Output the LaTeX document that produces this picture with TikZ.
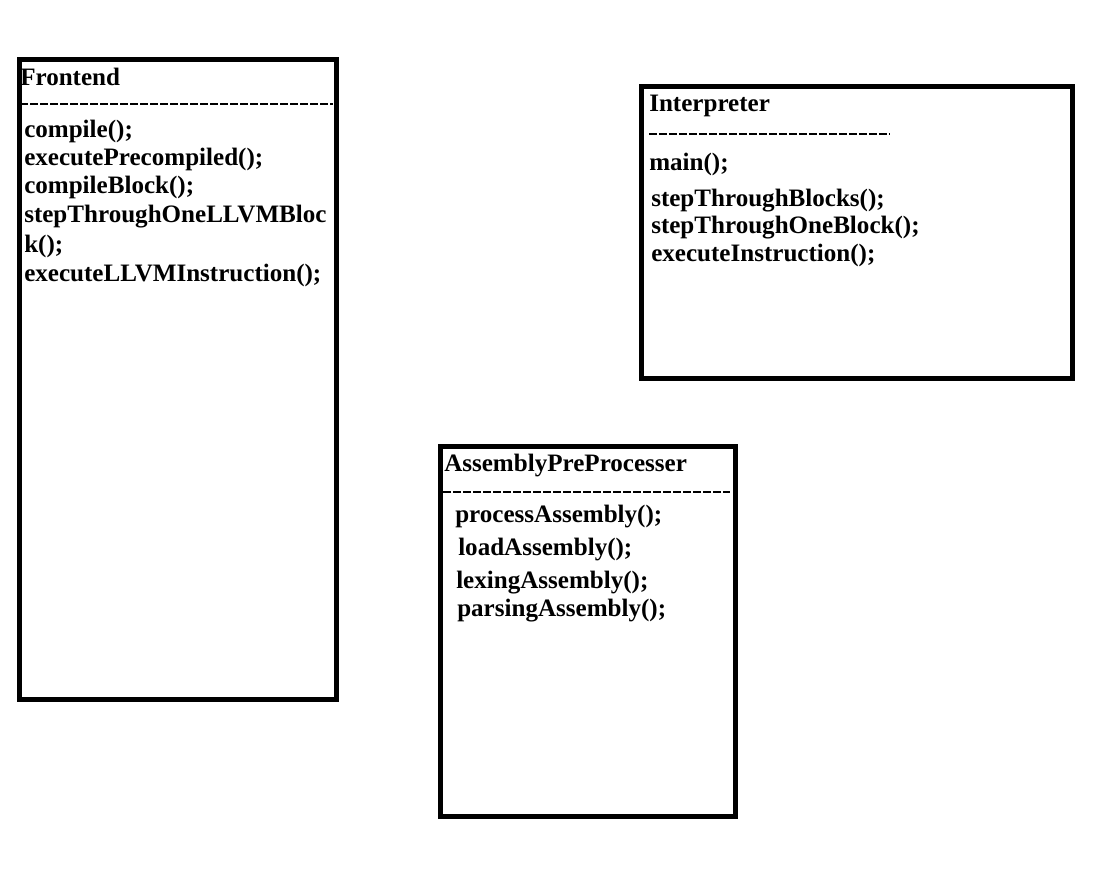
\documentclass[tikz,border=0pt]{standalone}
\usepackage{fontspec}
\setmainfont{Liberation Serif}
\usetikzlibrary{positioning}

\tikzset{
  classbox/.style={draw, line width=3.75pt},
  member/.style={anchor=west, inner sep=0pt, font=\bfseries\fontsize{18.8}{22}\selectfont},
  sepline/.style={line width=1.6pt, dash pattern=on 6pt off 1.5pt},
}

\begin{document}
\begin{tikzpicture}[x=0.75pt,y=-0.75pt]
  \useasboundingbox (0,0) rectangle (1101,893);

  % Frontend
  \coordinate (fe-nw) at (19.5,59.5);
  \coordinate (fe-se) at (336,699.5);
  \draw[classbox] (fe-nw) rectangle (fe-se);
  \node[member] (fe) at (20,77) {Frontend};
  \coordinate (fe-sl) at (20,104);
  \coordinate (fe-sr) at (333,104);
  \draw[sepline] (fe-sl) -- (fe-sr);
  \node[member] (fe1) at (24,131) {compile();};
  \node[member] (fe2) at (24,159) {executePrecompiled();};
  \node[member] (fe3) at (24,187) {compileBlock();};
  \node[member] (fe4) at (24,217) {stepThroughOneLLVMBloc};
  \node[member] (fe5) at (24,246) {k();};
  \node[member] (fe6) at (24,275) {executeLLVMInstruction();};

  % Interpreter
  \coordinate (in-nw) at (641.5,86);
  \coordinate (in-se) at (1072,378);
  \draw[classbox] (in-nw) rectangle (in-se);
  \node[member] (in) at (649,106) {Interpreter};
  \coordinate (in-sl) at (649,134);
  \coordinate (in-sr) at (890,134);
  \draw[sepline] (in-sl) -- (in-sr);
  \node[member] (in1) at (649,164) {main();};
  \node[member] (in2) at (651,201) {stepThroughBlocks();};
  \node[member] (in3) at (651,228) {stepThroughOneBlock();};
  \node[member] (in4) at (651,255) {executeInstruction();};

  % AssemblyPreProcesser
  \coordinate (ap-nw) at (440.5,446.5);
  \coordinate (ap-se) at (735,816);
  \draw[classbox] (ap-nw) rectangle (ap-se);
  \node[member] (ap) at (444,466) {AssemblyPreProcesser};
  \coordinate (ap-sl) at (443,492);
  \coordinate (ap-sr) at (730,492);
  \draw[sepline] (ap-sl) -- (ap-sr);
  \node[member] (ap1) at (455,517) {processAssembly();};
  \node[member] (ap2) at (458,550) {loadAssembly();};
  \node[member] (ap3) at (456,583) {lexingAssembly();};
  \node[member] (ap4) at (457,611) {parsingAssembly();};
\end{tikzpicture}
\end{document}
